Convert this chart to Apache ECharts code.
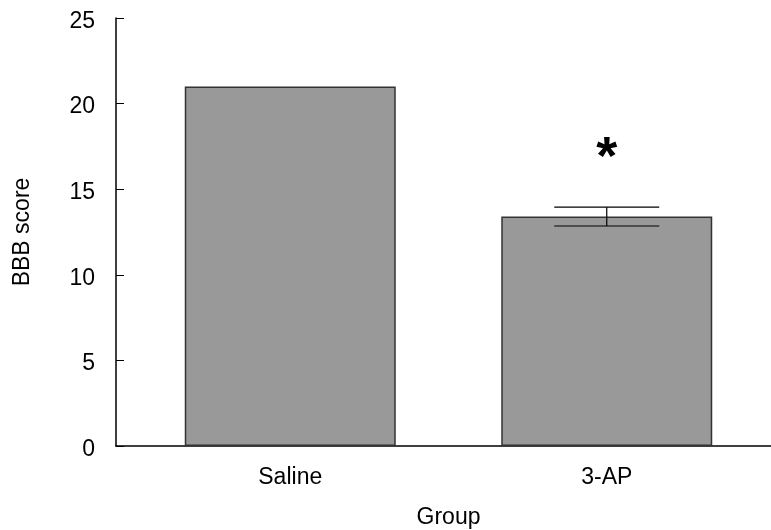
<!DOCTYPE html>
<html>
<head>
<meta charset="utf-8">
<script src="https://cdn.jsdelivr.net/npm/echarts@6/dist/echarts.min.js"></script>
<style>html,body{margin:0;padding:0;background:#fff}#c{width:771px;height:530px}</style>
</head>
<body>
<div id="c"></div>
<script>
var categories = ['Saline', '3-AP'];
var means = [21.0, 13.4];
var errors = [0, 0.55];
var marks = ['', '*'];
var yTicks = {min: 0, max: 25, interval: 5};
var xName = 'Group';
var yName = 'BBB score';

var FONT = '"Liberation Sans", Arial, sans-serif';
var chart = echarts.init(document.getElementById('c'));
var errData = categories.map(function (c, i) { return [i, means[i], errors[i], marks[i]]; });

chart.setOption({
  animation: false,
  backgroundColor: '#ffffff',
  grid: [
    {left: 116, right: 0, top: 18, bottom: 84, containLabel: false, outerBoundsMode: 'none'},
    {left: 132, right: 6, top: 18, bottom: 84, containLabel: false, outerBoundsMode: 'none'}
  ],
  xAxis: [
    {type: 'value', gridIndex: 0, min: 0, max: 1,
     axisLine: {show: true, lineStyle: {color: '#000', width: 1.5}},
     axisTick: {show: false}, axisLabel: {show: false}, splitLine: {show: false}},
    {type: 'category', gridIndex: 1, data: categories,
     axisLine: {show: false}, axisTick: {show: false},
     axisLabel: {color: '#000', fontFamily: FONT, fontSize: 23, margin: 20},
     name: xName, nameLocation: 'middle', nameGap: 60,
     nameTextStyle: {color: '#000', fontFamily: FONT, fontSize: 23}}
  ],
  yAxis: [
    {type: 'value', gridIndex: 0, min: yTicks.min, max: yTicks.max, interval: yTicks.interval,
     axisLine: {show: true, lineStyle: {color: '#000', width: 1.5}},
     axisTick: {show: true, inside: true, length: 8, lineStyle: {color: '#000', width: 1}},
     axisLabel: {margin: 21, formatter: '{a|{value}}',
       rich: {a: {color: '#000', fontFamily: FONT, fontSize: 23, padding: [7, 0, 0, 0]}}},
     splitLine: {show: false},
     name: yName, nameLocation: 'middle', nameGap: 82,
     nameTextStyle: {color: '#000', fontFamily: FONT, fontSize: 23}},
    {type: 'value', gridIndex: 1, min: yTicks.min, max: yTicks.max, interval: yTicks.interval, show: false}
  ],
  series: [
    {type: 'bar', xAxisIndex: 1, yAxisIndex: 1, data: means, barWidth: 211,
     itemStyle: {color: '#999999', borderColor: '#333333', borderWidth: 1.5}},
    {type: 'custom', xAxisIndex: 1, yAxisIndex: 1, data: errData, z: 10,
     renderItem: function (params, api) {
       var x = api.value(0), m = api.value(1), e = api.value(2), mk = errData[params.dataIndex][3];
       var top = api.coord([x, m + e]);
       var bot = api.coord([x, m - e]);
       var hw = 52.5;
       var children = [];
       if (e > 0) {
         var ls = {stroke: '#000', lineWidth: 1.2};
         children.push({type: 'line', shape: {x1: top[0], y1: top[1], x2: top[0], y2: bot[1]}, style: ls});
         children.push({type: 'line', shape: {x1: top[0] - hw, y1: top[1], x2: top[0] + hw, y2: top[1]}, style: ls});
         children.push({type: 'line', shape: {x1: top[0] - hw, y1: bot[1], x2: top[0] + hw, y2: bot[1]}, style: ls});
       }
       if (mk) {
         children.push({type: 'text', style: {text: mk, x: top[0], y: top[1] - 48,
           fill: '#000', font: 'bold 54px ' + FONT, textAlign: 'center', textVerticalAlign: 'middle'}});
       }
       return {type: 'group', children: children};
     }}
  ]
});
</script>
</body>
</html>
